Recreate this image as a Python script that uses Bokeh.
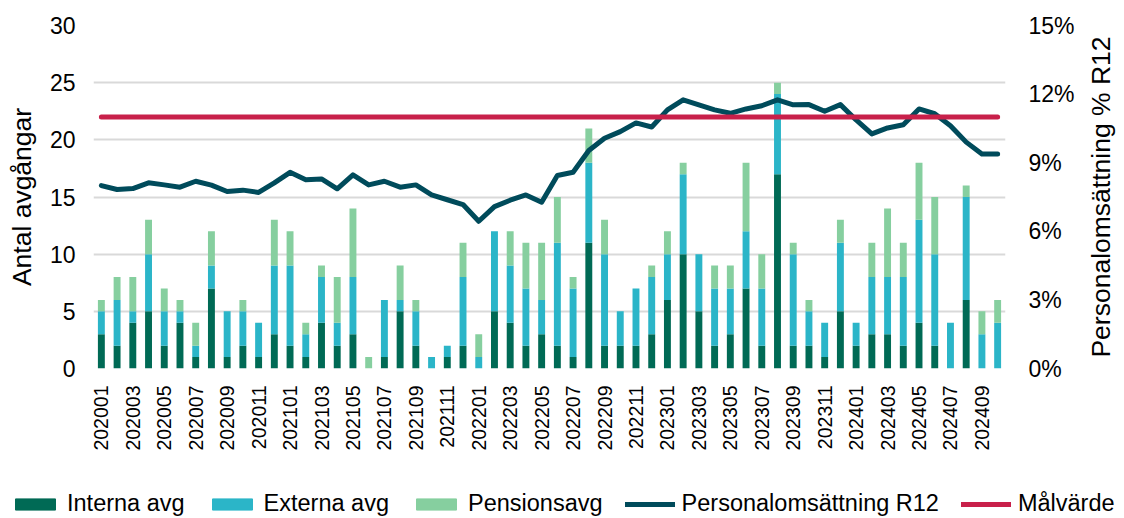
import math
from bokeh.plotting import figure
from bokeh.layouts import column, row
from bokeh.models import (Range1d, LinearAxis, FixedTicker, PrintfTickFormatter,
                          Legend, LegendItem, ColumnDataSource, Label)
from bokeh.embed import file_html
from bokeh.resources import INLINE

months = ["202001", "202002", "202003", "202004", "202005", "202006", "202007", "202008",
          "202009", "202010", "202011", "202012",
          "202101", "202102", "202103", "202104", "202105", "202106", "202107", "202108",
          "202109", "202110", "202111", "202112",
          "202201", "202202", "202203", "202204", "202205", "202206", "202207", "202208",
          "202209", "202210", "202211", "202212",
          "202301", "202302", "202303", "202304", "202305", "202306", "202307", "202308",
          "202309", "202310", "202311", "202312",
          "202401", "202402", "202403", "202404", "202405", "202406", "202407", "202408",
          "202409", "202410"]

interna = [3, 2, 4, 5, 2, 4, 1, 7, 1, 2, 1, 3,
           2, 1, 4, 2, 3, 0, 1, 5, 2, 0, 1, 2,
           0, 5, 4, 2, 3, 2, 1, 11, 2, 2, 2, 3,
           6, 10, 5, 2, 3, 7, 2, 17, 2, 2, 1, 5,
           2, 3, 3, 2, 4, 2, 0, 6, 0, 0]
externa = [2, 4, 1, 5, 3, 1, 1, 2, 4, 3, 3, 6,
           7, 2, 4, 2, 5, 0, 5, 1, 3, 1, 1, 6,
           1, 7, 5, 5, 3, 9, 6, 7, 8, 3, 5, 5,
           4, 7, 5, 5, 4, 5, 5, 7, 8, 3, 3, 6,
           2, 5, 5, 6, 9, 8, 4, 9, 3, 4]
pension = [1, 2, 3, 3, 2, 1, 2, 3, 0, 1, 0, 4,
           3, 1, 1, 4, 6, 1, 0, 3, 1, 0, 0, 3,
           2, 0, 3, 4, 5, 4, 1, 3, 3, 0, 0, 1,
           2, 1, 0, 2, 2, 6, 3, 1, 1, 1, 0, 2,
           0, 3, 6, 3, 5, 5, 0, 1, 2, 2]
omsattning = [8.00, 7.83, 7.87, 8.12, 8.03, 7.93, 8.19, 8.02, 7.74, 7.80, 7.70, 8.12,
              8.58, 8.25, 8.29, 7.86, 8.47, 8.03, 8.19, 7.93, 8.03, 7.59, 7.38, 7.17,
              6.44, 7.08, 7.36, 7.59, 7.27, 8.44, 8.58, 9.53, 10.07, 10.36, 10.74, 10.56,
              11.31, 11.75, 11.53, 11.31, 11.16, 11.35, 11.49, 11.75, 11.53, 11.54, 11.25, 11.54,
              10.87, 10.26, 10.52, 10.66, 11.35, 11.14, 10.62, 9.90, 9.38, 9.38]
malvarde = 11.0

left_ticks = [0, 5, 10, 15, 20, 25, 30]
right_ticks = [0, 3, 6, 9, 12, 15]
legend_labels = ["Interna avg", "Externa avg", "Pensionsavg",
                 "Personalomsättning R12", "Målvärde"]
left_title = "Antal avgångar"
right_title = "Personalomsättning % R12"

FONT = "Liberation Sans"
C_INT = "#006A55"
C_EXT = "#2BB5C8"
C_PEN = "#86CF9F"
C_LINE = "#004B5B"
C_TARGET = "#C8204A"

n = len(months)
xs = list(range(n))
src = ColumnDataSource(dict(x=xs, interna=interna, externa=externa, pension=pension,
                            oms=omsattning, mal=[malvarde] * n))

p = figure(width=1084, height=488, output_backend="svg", toolbar_location=None,
           x_range=Range1d(-0.5, n - 0.5), y_range=Range1d(0, 30),
           min_border_left=93, min_border_right=79, min_border_top=25, min_border_bottom=120)
p.outline_line_color = None
p.extra_y_ranges = {"pct": Range1d(0, 15)}

bars = p.vbar_stack(["interna", "externa", "pension"], x="x", width=0.44,
                    color=[C_INT, C_EXT, C_PEN], line_color=None, source=src)
l1 = p.line("x", "oms", source=src, y_range_name="pct", line_width=5, color=C_LINE,
            line_join="round", line_cap="round")
l2 = p.line("x", "mal", source=src, y_range_name="pct", line_width=5, color=C_TARGET,
            line_cap="round")

# grid
p.xgrid.visible = False
p.ygrid.ticker = FixedTicker(ticks=left_ticks)
p.ygrid.grid_line_color = "#D9D9D9"
p.ygrid.grid_line_width = 2

# x axis
xa = p.xaxis[0]
xa.ticker = FixedTicker(ticks=xs[::2])
xa.major_label_overrides = {i: months[i] for i in xs}
xa.major_label_orientation = math.pi / 2
xa.axis_line_color = None
xa.major_tick_line_color = None
xa.minor_tick_line_color = None
xa.major_tick_out = 0
xa.major_tick_in = 0
xa.major_label_standoff = 17
xa.major_label_text_font = FONT
xa.major_label_text_font_size = "19.5px"
xa.major_label_text_color = "#000000"

# left axis
ya = p.yaxis[0]
ya.ticker = FixedTicker(ticks=left_ticks)
ya.axis_label = left_title
ya.axis_line_color = None
ya.major_tick_line_color = None
ya.minor_tick_line_color = None
ya.major_tick_out = 0
ya.major_tick_in = 0
ya.major_label_standoff = 18
ya.axis_label_standoff = 10
ya.major_label_text_font = FONT
ya.major_label_text_font_size = "23px"
ya.major_label_text_color = "#000000"
ya.axis_label_text_font = FONT
ya.axis_label_text_font_size = "26.5px"
ya.axis_label_text_font_style = "normal"
ya.axis_label_text_color = "#000000"

# right axis (title drawn in a narrow strip so that it reads bottom-to-top)
ra = LinearAxis(y_range_name="pct", ticker=FixedTicker(ticks=right_ticks),
                formatter=PrintfTickFormatter(format="%d%%"))
ra.axis_line_color = None
ra.major_tick_line_color = None
ra.minor_tick_line_color = None
ra.major_tick_out = 0
ra.major_tick_in = 0
ra.major_label_standoff = 23
ra.major_label_text_font = FONT
ra.major_label_text_font_size = "23px"
ra.major_label_text_color = "#000000"
p.add_layout(ra, "right")

tf = figure(width=40, height=488, output_backend="svg", toolbar_location=None,
            x_axis_type=None, y_axis_type=None, x_range=Range1d(0, 1), y_range=Range1d(0, 1),
            min_border_left=0, min_border_right=0, min_border_top=25, min_border_bottom=120)
tf.outline_line_color = None
tf.grid.visible = False
tf.add_layout(Label(x=0.4, y=0.5, text=right_title, angle=math.pi / 2,
                    text_align="center", text_baseline="middle",
                    text_font=FONT, text_font_size="26.5px", text_color="#000000"))

# legend strip below the chart (swatch renderers hold no visible points)
lf = figure(width=1124, height=30, output_backend="svg", toolbar_location=None,
            x_axis_type=None, y_axis_type=None, x_range=Range1d(0, 1), y_range=Range1d(0, 1),
            min_border_left=0, min_border_right=0, min_border_top=0, min_border_bottom=0)
lf.frame_align = False
lf.outline_line_color = None
lf.grid.visible = False
dummy = ColumnDataSource(dict(x=[float("nan")], y=[float("nan")]))
r_int = lf.vbar(x="x", top="y", width=0.1, color=C_INT, source=dummy)
r_ext = lf.vbar(x="x", top="y", width=0.1, color=C_EXT, source=dummy)
r_pen = lf.vbar(x="x", top="y", width=0.1, color=C_PEN, source=dummy)
r_l1 = lf.line(x="x", y="y", line_width=5, color=C_LINE, line_cap="round", source=dummy)
r_l2 = lf.line(x="x", y="y", line_width=5, color=C_TARGET, line_cap="round", source=dummy)

legend = Legend(items=[LegendItem(label=lab, renderers=[r])
                       for lab, r in zip(legend_labels, [r_int, r_ext, r_pen, r_l1, r_l2])],
                orientation="horizontal", location=(10, 1))
legend.padding = 0
legend.margin = 0
legend.spacing = 22
legend.label_standoff = 7
legend.glyph_width = 50
legend.glyph_height = 14
legend.border_line_color = None
legend.background_fill_alpha = 0
legend.label_text_font = FONT
legend.label_text_font_size = "23.5px"
legend.label_text_color = "#000000"
lf.add_layout(legend, "center")

layout = column(row(p, tf, spacing=0), lf, spacing=0)
open("out.html", "w").write(file_html(layout, INLINE))
